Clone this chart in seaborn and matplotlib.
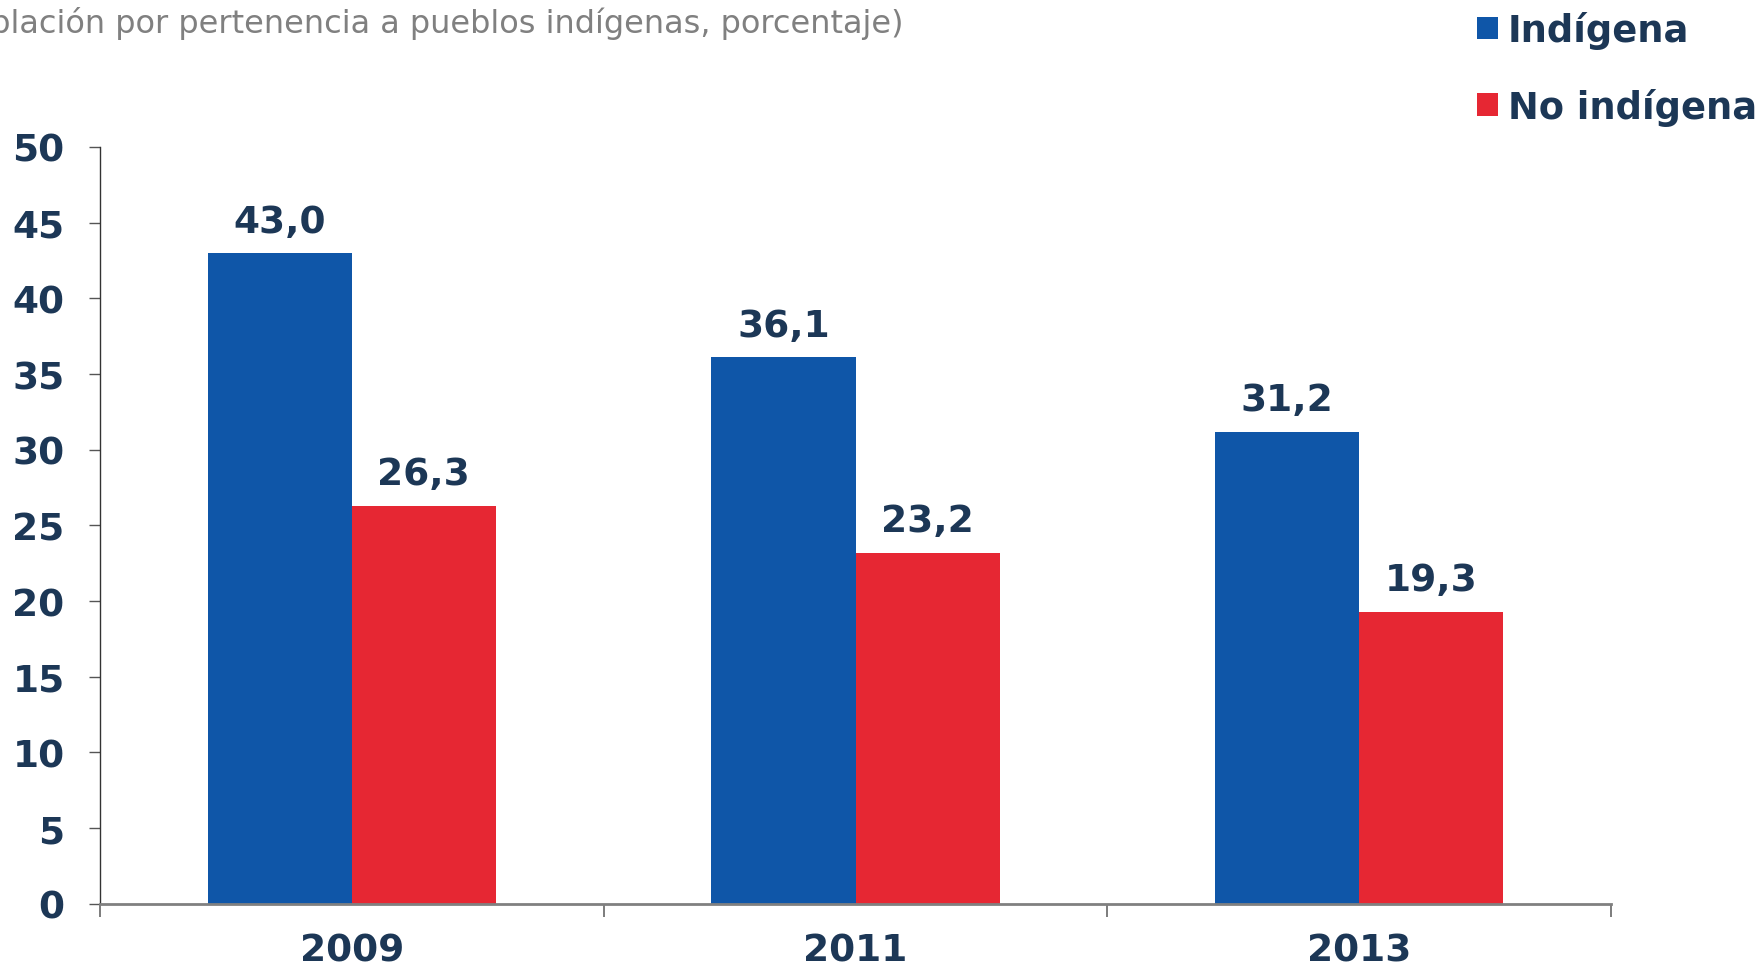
import matplotlib
matplotlib.use("Agg")
import matplotlib.pyplot as plt
import seaborn as sns
import pandas as pd
from matplotlib.ticker import FixedLocator

# ---- data ----
years = ["2009", "2011", "2013"]
groups = ["Indígena", "No indígena"]
indigena = [43.0, 36.1, 31.2]
no_indigena = [26.3, 23.2, 19.3]
yticks = [0, 5, 10, 15, 20, 25, 30, 35, 40, 45, 50]
subtitle = "(Población por pertenencia a pueblos indígenas, porcentaje)"

BLUE = "#0F56A8"
RED = "#E62733"
NAVY = "#1C3756"
GREY = "#808080"

df = pd.DataFrame({
    "year": years * 2,
    "grupo": [groups[0]] * 3 + [groups[1]] * 3,
    "valor": indigena + no_indigena,
})

sns.set_theme(style="white")
plt.rcParams["font.family"] = ["DejaVu Sans"]

fig = plt.figure(figsize=(17.6, 9.7), dpi=100)
ax = fig.add_axes([100 / 1760, 1 - 904.7 / 970, 1511 / 1760, (904.7 - 148) / 970])

sns.barplot(data=df, x="year", y="valor", hue="grupo", palette=[BLUE, RED],
            width=0.572, saturation=1, linewidth=0, ax=ax, errorbar=None)

ax.set_xlim(-0.5, 2.5)
ax.set_ylim(0, 50)
ax.set_yticks(yticks)
ax.set_xlabel("")
ax.set_ylabel("")

for s in ["top", "right"]:
    ax.spines[s].set_visible(False)
ax.spines["left"].set_color("#333333")
ax.spines["left"].set_linewidth(1.0)
ax.spines["bottom"].set_color(GREY)
ax.spines["bottom"].set_linewidth(2.0)

FS = 27
ax.tick_params(axis="y", direction="out", length=8, width=1, color="#555555",
               labelsize=FS, labelcolor=NAVY, pad=17.5, left=True)
ax.tick_params(axis="x", which="major", length=0, labelsize=FS, labelcolor=NAVY, pad=21)
ax.xaxis.set_minor_locator(FixedLocator([-0.5, 0.5, 1.5, 2.5]))
ax.tick_params(axis="x", which="minor", direction="out", length=9, width=1.2,
               color="#666666", bottom=True)
for lab in ax.get_yticklabels() + ax.get_xticklabels():
    lab.set_fontweight("bold")

for cont in ax.containers:
    ax.bar_label(cont, labels=[f"{v:.1f}".replace(".", ",") for v in cont.datavalues],
                 padding=9.5, fontsize=FS, fontweight="bold", color=NAVY)

handles, labels = ax.get_legend_handles_labels()
if ax.get_legend() is not None:
    ax.get_legend().remove()
fig.legend(handles, labels, loc="upper left", bbox_to_anchor=(1477 / 1760, 1 - 12 / 970),
           frameon=False, borderpad=0, borderaxespad=0, handlelength=0.57,
           handleheight=0.57, handletextpad=0.27, labelspacing=1.05,
           prop={"size": 26.5, "weight": "bold"}, labelcolor=NAVY)

fig.text(903 / 1760, 1 - 33 / 970, subtitle, ha="right", va="baseline",
         fontsize=23, color=GREY)

fig.savefig("out.png", dpi=100)
